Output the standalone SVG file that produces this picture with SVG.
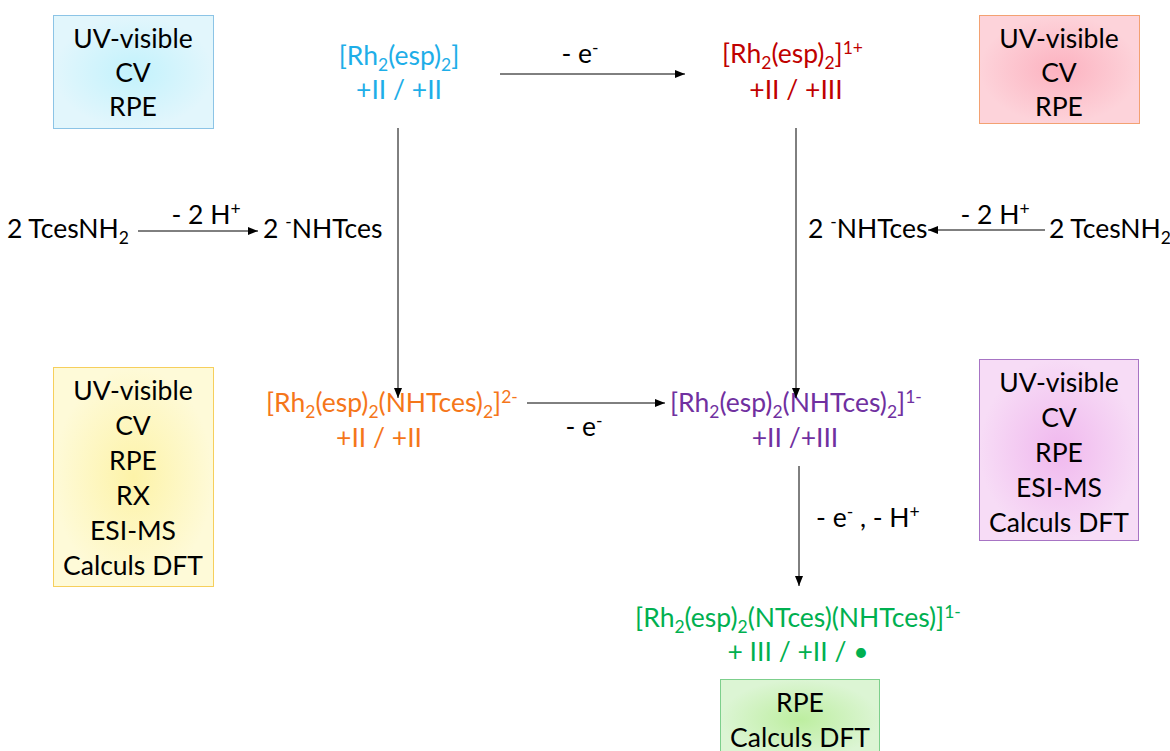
<svg xmlns="http://www.w3.org/2000/svg" width="1170" height="751" viewBox="0 0 1170 751">
<style>
text{font-family:Lato,"Liberation Sans",sans-serif;font-size:26.5px;fill:#000}
.c{text-anchor:middle}
.s{font-size:17.5px}
.blue{fill:#1eaee8}.red{fill:#c00000}.orange{fill:#f5761a}.purple{fill:#7030a0}.green{fill:#00b050}
.ln{stroke:#000;stroke-width:1;fill:none;marker-end:url(#ah)}
</style>
<defs>
<marker id="ah" viewBox="0 0 10 10" refX="10" refY="5" markerWidth="10" markerHeight="10" markerUnits="userSpaceOnUse" orient="auto"><path d="M0,1 L10,5 L0,9 Z" fill="#000"/></marker>
<radialGradient id="gb"><stop offset="0" stop-color="#c2f2fc"/><stop offset="1" stop-color="#e2f6fc"/></radialGradient>
<radialGradient id="gr"><stop offset="0" stop-color="#fcb2c0"/><stop offset="1" stop-color="#fdd3da"/></radialGradient>
<radialGradient id="gy"><stop offset="0" stop-color="#fdf3a8"/><stop offset="1" stop-color="#fefad8"/></radialGradient>
<radialGradient id="gp"><stop offset="0" stop-color="#f0b8ee"/><stop offset="1" stop-color="#f7dcf6"/></radialGradient>
<radialGradient id="gg"><stop offset="0" stop-color="#bdeea0"/><stop offset="1" stop-color="#dcf5d4"/></radialGradient>
</defs>

<g id="box-blue">
<rect x="53.5" y="15.5" width="160" height="113" fill="url(#gb)" stroke="#8cc4e6"/>
<text class="c" x="133" y="48">UV-visible</text>
<text class="c" x="133" y="82">CV</text>
<text class="c" x="133" y="116">RPE</text>
</g>
<g id="box-red">
<rect x="979.5" y="15.5" width="160" height="108" fill="url(#gr)" stroke="#f3a172"/>
<text class="c" x="1059" y="48">UV-visible</text>
<text class="c" x="1059" y="82">CV</text>
<text class="c" x="1059" y="116">RPE</text>
</g>
<g id="box-yellow">
<rect x="53.5" y="367.5" width="160" height="219" fill="url(#gy)" stroke="#f6cf5c"/>
<text class="c" x="133" y="400">UV-visible</text>
<text class="c" x="133" y="435">CV</text>
<text class="c" x="133" y="470">RPE</text>
<text class="c" x="133" y="505">RX</text>
<text class="c" x="133" y="540">ESI-MS</text>
<text class="c" x="133" y="575">Calculs DFT</text>
</g>
<g id="box-purple">
<rect x="979.5" y="359.5" width="159" height="181" fill="url(#gp)" stroke="#a774c4"/>
<text class="c" x="1059" y="392">UV-visible</text>
<text class="c" x="1059" y="427">CV</text>
<text class="c" x="1059" y="462">RPE</text>
<text class="c" x="1059" y="497">ESI-MS</text>
<text class="c" x="1059" y="532">Calculs DFT</text>
</g>
<g id="box-green">
<rect x="720.5" y="679.5" width="159" height="80" fill="url(#gg)" stroke="#7dcf8c"/>
<text class="c" x="800" y="712">RPE</text>
<text class="c" x="800" y="747">Calculs DFT</text>
</g>

<g id="rh-neutral">
<text class="c blue" x="399" y="65">[Rh<tspan class="s" dy="6">2</tspan><tspan dy="-6">(esp)</tspan><tspan class="s" dy="6">2</tspan><tspan dy="-6">]</tspan></text>
<text class="c blue" x="399" y="99">+II / +II</text>
</g>
<g id="rh-cation">
<text class="red" x="722" y="63">[Rh<tspan class="s" dy="6">2</tspan><tspan dy="-6">(esp)</tspan><tspan class="s" dy="6">2</tspan><tspan dy="-6">]</tspan><tspan class="s" dy="-9">1+</tspan></text>
<text class="c red" x="796" y="99">+II / +III</text>
</g>
<g id="reagent-left">
<text x="7" y="238">2 TcesNH<tspan class="s" dy="6">2</tspan></text>
<text x="263" y="238">2 <tspan class="s" dy="-10">-</tspan><tspan dy="10">NHTces</tspan></text>
</g>
<g id="reagent-right">
<text x="808" y="238">2 <tspan class="s" dy="-10">-</tspan><tspan dy="10">NHTces</tspan></text>
<text x="1049" y="238">2 TcesNH<tspan class="s" dy="6">2</tspan></text>
</g>
<g id="rh-amide-2">
<text class="orange" x="266" y="412">[Rh<tspan class="s" dy="6">2</tspan><tspan dy="-6">(esp)</tspan><tspan class="s" dy="6">2</tspan><tspan dy="-6">(NHTces)</tspan><tspan class="s" dy="6">2</tspan><tspan dy="-6">]</tspan><tspan class="s" dy="-9">2-</tspan></text>
<text class="c orange" x="379" y="447">+II / +II</text>
</g>
<g id="rh-amide-1">
<text class="purple" x="670" y="412">[Rh<tspan class="s" dy="6">2</tspan><tspan dy="-6">(esp)</tspan><tspan class="s" dy="6">2</tspan><tspan dy="-6">(NHTces)</tspan><tspan class="s" dy="6">2</tspan><tspan dy="-6">]</tspan><tspan class="s" dy="-9">1-</tspan></text>
<text class="c purple" x="795" y="447">+II /+III</text>
</g>
<g id="rh-nitrene">
<text class="c green" x="798" y="627">[Rh<tspan class="s" dy="6">2</tspan><tspan dy="-6">(esp)</tspan><tspan class="s" dy="6">2</tspan><tspan dy="-6">(NTces)(NHTces)]</tspan><tspan class="s" dy="-9">1-</tspan></text>
<text class="c green" x="798" y="661">+ III / +II / •</text>
</g>

<g id="connectors">
<line class="ln" x1="500" y1="74" x2="685" y2="74"/>
<text class="c" x="580" y="63">- e<tspan class="s" dy="-9">-</tspan></text>
<line class="ln" x1="398" y1="128" x2="398" y2="398"/>
<line class="ln" x1="796" y1="128" x2="796" y2="398"/>
<line class="ln" x1="138" y1="231" x2="258" y2="231"/>
<text class="c" x="206" y="224">- 2 H<tspan class="s" dy="-9">+</tspan></text>
<line class="ln" x1="1045" y1="230" x2="928" y2="230"/>
<text class="c" x="995" y="224">- 2 H<tspan class="s" dy="-9">+</tspan></text>
<line class="ln" x1="527" y1="403" x2="665" y2="403"/>
<text class="c" x="584" y="436">- e<tspan class="s" dy="-9">-</tspan></text>
<line class="ln" x1="799" y1="466" x2="799" y2="586"/>
<text x="816" y="527">- e<tspan class="s" dy="-9">-</tspan><tspan dy="9"> , - H</tspan><tspan class="s" dy="-9">+</tspan></text>
</g>
</svg>
